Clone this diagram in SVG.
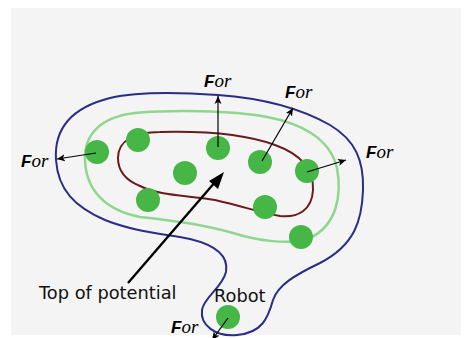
<svg xmlns="http://www.w3.org/2000/svg" width="464" height="338" viewBox="0 0 464 338">
  <defs>
    <marker id="ah" markerUnits="userSpaceOnUse" markerWidth="10" markerHeight="8" refX="8" refY="4" orient="auto">
      <path d="M0,0.5 L8,4 L0,7.5 L2,4 Z" fill="#000"/>
    </marker>
  </defs>
  <style>
    .bg { fill: #f4f4f4; }
    .outer { fill: none; stroke: #2a2d85; stroke-width: 2; }
    .mid { fill: none; stroke: #8fd68f; stroke-width: 2.5; }
    .inner { fill: none; stroke: #6a1c1c; stroke-width: 2; }
    .dot { fill: #46b646; }
    .arr { stroke: #000; stroke-width: 1.2; fill: none; marker-end: url(#ah); }
    .big { stroke: #000; stroke-width: 2.4; fill: none; }
    .lbl { font-family: "DejaVu Sans", Verdana, sans-serif; font-size: 17.8px; fill: #111; }
    .F { font-family: "Liberation Sans", Arial, sans-serif; font-weight: bold; font-style: italic; font-size: 17px; fill: #000; }
    .or { font-family: "Liberation Serif", "Times New Roman", serif; font-style: italic; font-size: 19px; fill: #000; }
  </style>
  <rect width="464" height="338" fill="#ffffff"/>
  <rect class="bg" x="11" y="8" width="450" height="327"/>

  <g id="contours">
    <path id="outer-contour" class="outer" d="M56,160 C54,130 70,108 110,98 C140,91 190,93 218,95 C260,98 300,108 330,125 C355,140 364,160 363,190 C362,220 355,245 320,263 C295,275 278,285 273,300 C268,318 262,333 237,335 C215,337 200,325 202,310 C204,297 222,288 226,272 C229,255 215,245 190,239 C165,234 135,232 105,220 C75,207 58,190 56,160 Z"/>
    <path id="middle-contour" class="mid" d="M85,160 C84,135 100,117 135,113 C170,110 230,110 267,117 C300,123 330,138 337,168 C342,195 337,225 310,238 C290,246 255,240 233,233 C205,225 170,220 140,217 C105,210 86,190 85,160 Z"/>
    <path id="inner-contour" class="inner" d="M118,158 C118,140 135,132 160,132 C200,131 245,134 275,145 C300,154 314,168 313,190 C312,210 298,218 280,216 C262,213 245,207 215,200 C185,195 160,196 140,186 C125,180 118,170 118,158 Z"/>
  </g>

  <g id="robots">
    <g id="r1"><circle class="dot" cx="97" cy="152" r="12"/></g>
    <g id="r2"><circle class="dot" cx="138" cy="140" r="12"/></g>
    <g id="r3"><circle class="dot" cx="218" cy="148" r="12"/></g>
    <g id="r4"><circle class="dot" cx="260" cy="162" r="12"/></g>
    <g id="r5"><circle class="dot" cx="307" cy="171" r="12"/></g>
    <g id="r6"><circle class="dot" cx="185" cy="173" r="12"/></g>
    <g id="r7"><circle class="dot" cx="148" cy="200" r="12"/></g>
    <g id="r8"><circle class="dot" cx="265" cy="207" r="12"/></g>
    <g id="r9"><circle class="dot" cx="301" cy="237" r="12"/></g>
    <g id="robot"><circle class="dot" cx="228" cy="317" r="12"/></g>
  </g>

  <g id="connectors">
    <line class="arr" x1="96" y1="153" x2="57" y2="159"/>
    <line class="arr" x1="218" y1="147" x2="218" y2="96"/>
    <line class="arr" x1="262" y1="161" x2="293" y2="108"/>
    <line class="arr" x1="307" y1="172" x2="346" y2="160"/>
    <line class="arr" x1="228" y1="318" x2="212" y2="340"/>
    <line class="big" x1="128" y1="283" x2="216" y2="181"/>
    <polygon points="224,172 218,189 209,181" fill="#000"/>
  </g>

  <g id="labels">
    <text x="21" y="167"><tspan class="F">F</tspan><tspan class="or">or</tspan></text>
    <text x="204" y="87"><tspan class="F">F</tspan><tspan class="or">or</tspan></text>
    <text x="285" y="98"><tspan class="F">F</tspan><tspan class="or">or</tspan></text>
    <text x="366" y="158"><tspan class="F">F</tspan><tspan class="or">or</tspan></text>
    <text x="171" y="333"><tspan class="F">F</tspan><tspan class="or">or</tspan></text>
    <text class="lbl" x="39" y="299">Top of potential</text>
    <text class="lbl" x="214" y="302">Robot</text>
  </g>
</svg>
